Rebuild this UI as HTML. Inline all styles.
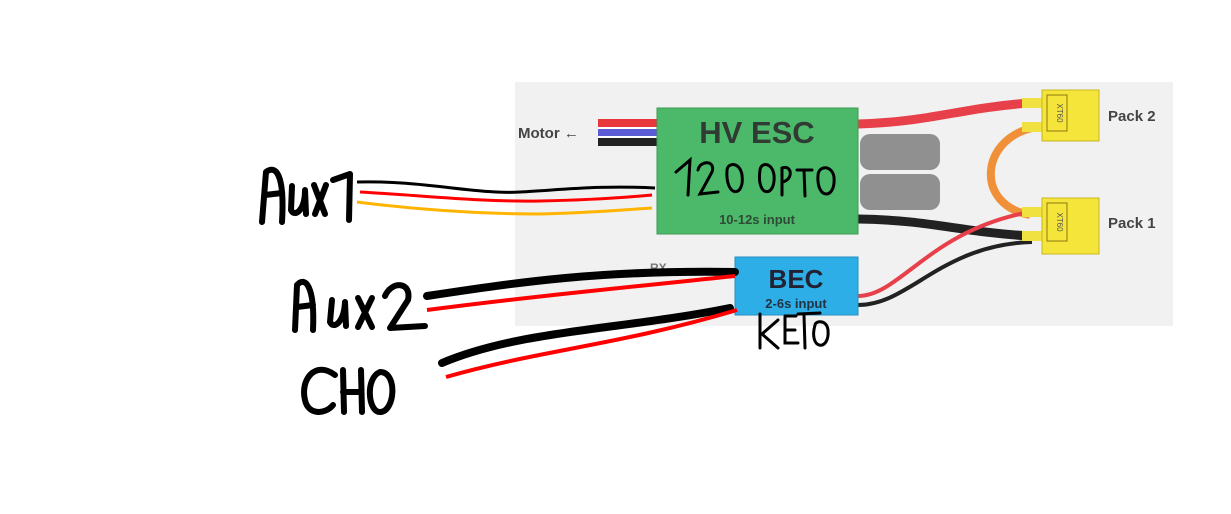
<!DOCTYPE html>
<html><head><meta charset="utf-8"><style>
html,body{margin:0;padding:0;background:#fff;width:1231px;height:514px;overflow:hidden}
svg{display:block}
text{font-family:"Liberation Sans",sans-serif}
</style></head><body>
<svg width="1231" height="514" viewBox="0 0 1231 514" xmlns="http://www.w3.org/2000/svg">
<rect x="515" y="82" width="658" height="244" fill="#f1f1f1"/>
<!-- motor wires -->
<text x="518" y="138" font-size="15" font-weight="bold" fill="#444">Motor ←</text>
<rect x="598" y="119" width="60" height="8" fill="#e8383e"/>
<rect x="598" y="127" width="60" height="2" fill="#fff"/>
<rect x="598" y="129" width="60" height="7" fill="#5b5bd6"/>
<rect x="598" y="136" width="60" height="2" fill="#fff"/>
<rect x="598" y="138" width="60" height="8" fill="#222"/>
<!-- ESC to packs -->
<path d="M858 124 C930 122 960 108 1030 103" stroke="#e8404a" stroke-width="9" fill="none"/>
<path d="M858 219 C930 220 960 232 1030 236" stroke="#222" stroke-width="9" fill="none"/>
<path d="M1032 128 C980 140 975 205 1030 215" stroke="#f0913a" stroke-width="8" fill="none"/>
<path d="M858 296 C900 296 930 230 1030 212" stroke="#e8404a" stroke-width="4" fill="none"/>
<path d="M858 305 C910 305 940 245 1032 242" stroke="#222" stroke-width="4" fill="none"/>
<!-- gray blocks -->
<rect x="860" y="134" width="80" height="36" rx="10" fill="#909090"/>
<rect x="860" y="174" width="80" height="36" rx="10" fill="#909090"/>
<!-- ESC -->
<rect x="657" y="108" width="201" height="126" fill="#4cb96a" stroke="#3d9a55"/>
<text x="757" y="143" font-size="31" font-weight="bold" fill="#2f3b33" text-anchor="middle">HV ESC</text>
<text x="757" y="224" font-size="13" font-weight="bold" fill="#2f4a36" text-anchor="middle">10-12s input</text>
<g stroke="#000" stroke-width="3" fill="none" stroke-linecap="round">
<path d="M676 172 L690 160 L688 195"/>
<path d="M698 170 C700 160 716 160 712 172 L700 194 L718 192"/>
<path d="M727 170 C725 198 745 198 742 175 C740 162 728 162 727 170"/>
<path d="M760 170 C756 198 776 198 774 175 C772 162 761 162 760 170"/>
<path d="M782 195 L782 168 C792 164 794 180 782 182"/>
<path d="M797 170 L812 170 M804 170 L805 196"/>
<path d="M818 175 C816 200 836 200 834 177 C832 165 819 165 818 175"/>
</g>
<!-- BEC -->
<text x="650" y="272" font-size="12" font-weight="bold" fill="#777">RX ←</text>
<rect x="735" y="257" width="123" height="58" fill="#2eaee6" stroke="#2590c0"/>
<text x="796" y="288" font-size="26" font-weight="bold" fill="#223" text-anchor="middle">BEC</text>
<text x="796" y="308" font-size="13" font-weight="bold" fill="#234" text-anchor="middle">2-6s input</text>
<!-- XT60s -->
<g>
<rect x="1022" y="98" width="22" height="10" fill="#f0e040"/><rect x="1022" y="122" width="22" height="10" fill="#f0e040"/>
<rect x="1042" y="90" width="57" height="51" fill="#f5e43a" stroke="#c8b820"/>
<rect x="1047" y="95" width="20" height="36" fill="none" stroke="#8a7a10"/>
<text x="1057" y="113" font-size="8" fill="#555" text-anchor="middle" transform="rotate(90 1057 113)">XT60</text>
<text x="1108" y="121" font-size="15" font-weight="bold" fill="#444">Pack 2</text>
<rect x="1022" y="207" width="22" height="10" fill="#f0e040"/><rect x="1022" y="231" width="22" height="10" fill="#f0e040"/>
<rect x="1042" y="198" width="57" height="56" fill="#f5e43a" stroke="#c8b820"/>
<rect x="1047" y="203" width="20" height="38" fill="none" stroke="#8a7a10"/>
<text x="1057" y="222" font-size="8" fill="#555" text-anchor="middle" transform="rotate(90 1057 222)">XT60</text>
<text x="1108" y="228" font-size="15" font-weight="bold" fill="#444">Pack 1</text>
</g>
<!-- hand wires -->
<path d="M357 182 C420 180 480 195 520 192 C560 190 600 185 655 188" stroke="#000" stroke-width="3" fill="none"/>
<path d="M360 192 C430 196 480 202 540 201 C590 200 620 198 652 195" stroke="#f00" stroke-width="3" fill="none"/>
<path d="M357 202 C420 210 480 214 540 214 C590 213 620 210 652 208" stroke="#ffb400" stroke-width="3" fill="none"/>
<path d="M427 296 C520 282 600 270 735 272" stroke="#000" stroke-width="8" fill="none" stroke-linecap="round"/>
<path d="M427 310 C520 298 600 290 735 276" stroke="#f00" stroke-width="4" fill="none"/>
<path d="M442 363 C520 330 620 330 730 308" stroke="#000" stroke-width="8" fill="none" stroke-linecap="round"/>
<path d="M446 377 C540 350 620 345 737 310" stroke="#f00" stroke-width="4" fill="none"/>
<!-- hand labels -->
<g stroke="#000" stroke-width="6" fill="none" stroke-linecap="round" stroke-linejoin="round">
<path d="M262 222 L266 172 C275 165 285 172 282 222 M265 195 L282 193"/>
<path d="M292 186 L291 210 C295 218 305 210 305 190 L306 214"/>
<path d="M314 185 L325 214 M326 185 L315 214"/>
<path d="M333 180 L350 174 L349 220"/>
<path d="M295 330 L297 285 C305 276 315 285 313 330 M297 307 L313 305"/>
<path d="M332 300 L330 322 C334 330 344 322 345 302 L346 326"/>
<path d="M358 298 L372 327 M372 298 L358 327"/>
<path d="M385 296 C392 280 412 282 408 300 L390 328 L425 326"/>
<path d="M335 375 C315 360 300 380 305 400 C308 415 325 415 333 405"/>
<path d="M343 370 L344 412 M343 392 L360 392 M361 370 L362 412"/>
<path d="M380 372 C365 378 368 412 380 412 C395 412 398 372 380 372"/>
</g>
<g stroke="#000" stroke-width="3" fill="none" stroke-linecap="round">
<path d="M760 314 L760 348 M778 320 L762 334 L778 348"/>
<path d="M785 316 L785 343 L798 343 M785 330 L795 330 M785 316 L796 316"/>
<path d="M798 314 L820 313 M804 315 L805 348"/>
<path d="M815 325 C808 350 830 352 828 330 C827 320 816 320 815 325"/>
</g>
</svg>
</body></html>
